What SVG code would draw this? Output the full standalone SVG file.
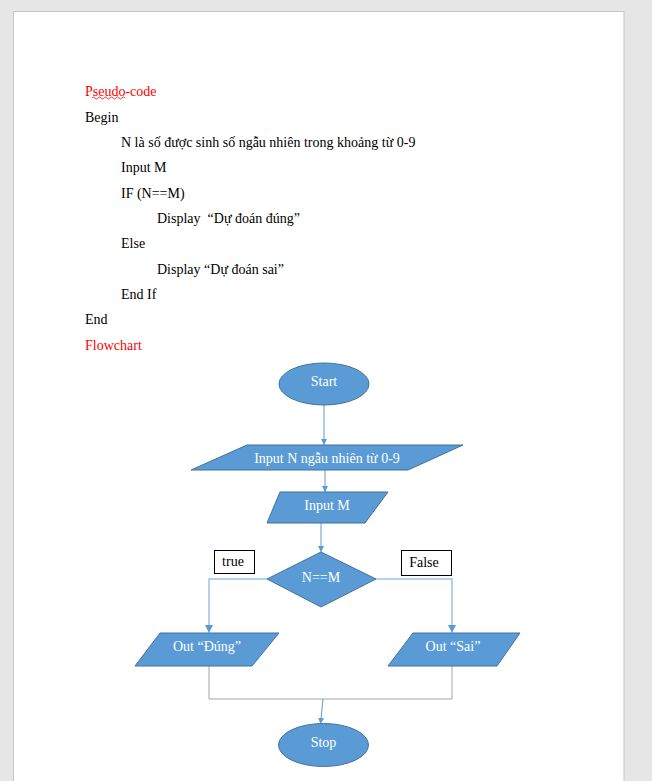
<svg xmlns="http://www.w3.org/2000/svg" width="652" height="781" viewBox="0 0 652 781">
<defs>
<style>
text{font-family:'Liberation Serif','Times New Roman',Times,serif;font-size:14px}
.pc{fill:#000;white-space:pre}
.red{fill:#ff0000}
.sh{fill:#5b9bd5;stroke:#41719c;stroke-width:1}
.lbl{fill:#fff;text-anchor:middle}
.box{fill:#fff;stroke:#000;stroke-width:1}
.btxt{fill:#000;text-anchor:middle}
.ar{fill:none;stroke:#5b9bd5;stroke-width:1}
.side{fill:none;stroke:#9dc3e6;stroke-width:1.5}
.gray{fill:none;stroke:#a5a5a5;stroke-width:1}
</style>
<marker id="ah" viewBox="0 0 10 10" refX="10" refY="5" markerWidth="6" markerHeight="6" orient="auto" markerUnits="userSpaceOnUse">
<path d="M0,0 L10,5 L0,10 z" fill="#5b9bd5"/>
</marker>
</defs>
<rect x="0" y="0" width="652" height="781" fill="#e6e6e6"/>
<rect x="13.5" y="11.5" width="610.5" height="775" fill="#fff" stroke="#c6c6c6" stroke-width="1"/>

<g id="pseudocode" font-family="Liberation Serif, serif">
<text class="pc red" x="85" y="96">Pseudo-code</text>
<path d="M92,98 q1.5,-2 3,0 t3,0 t3,0 t3,0 t3,0 t3,0 t3,0 t3,0 t3,0 t3,0 t3,0" fill="none" stroke="#ff0000" stroke-width="0.8"/>
<text class="pc" x="85" y="121.5">Begin</text>
<text class="pc" x="121" y="147">N là số được sinh số ngẫu nhiên trong khoảng từ 0-9</text>
<text class="pc" x="121" y="172">Input M</text>
<text class="pc" x="121" y="197.5">IF (N==M)</text>
<text class="pc" x="157" y="223">Display  “Dự đoán đúng”</text>
<text class="pc" x="121" y="248.3">Else</text>
<text class="pc" x="157" y="273.5">Display “Dự đoán sai”</text>
<text class="pc" x="121" y="299">End If</text>
<text class="pc" x="85" y="324.3">End</text>
<text class="pc red" x="85" y="349.5">Flowchart</text>
</g>

<g id="connectors">
<line class="ar" x1="324" y1="405" x2="324" y2="445" marker-end="url(#ah)"/>
<line class="ar" x1="325" y1="470" x2="325" y2="492" marker-end="url(#ah)"/>
<line class="ar" x1="321" y1="523" x2="321" y2="552" marker-end="url(#ah)"/>
<polyline class="side" points="267,579 209,579 209,627"/>
<path d="M205,625 L209,633 L213,625 z" fill="#5b9bd5"/>
<polyline class="side" points="376,579 452,579 452,627"/>
<path d="M448,625 L452,633 L456,625 z" fill="#5b9bd5"/>
<polyline class="gray" points="209,666 209,699 452,699 452,666"/>
<line class="ar" x1="323" y1="699" x2="320.5" y2="724" marker-end="url(#ah)"/>
</g>

<g id="start">
<ellipse class="sh" cx="324" cy="384" rx="45" ry="21"/>
<text class="lbl" x="324" y="386">Start</text>
</g>
<g id="inputN">
<polygon class="sh" points="247,445 463,445 408,470 191,470"/>
<text class="lbl" x="327" y="463">Input N ngẫu nhiên từ 0-9</text>
</g>
<g id="inputM">
<polygon class="sh" points="280,492 388,492 365,523 267,523"/>
<text class="lbl" x="327" y="510">Input M</text>
</g>
<g id="decision">
<polygon class="sh" points="321,552 376,579 321,607 267,579"/>
<text class="lbl" x="321" y="582">N==M</text>
</g>
<g id="trueLabel">
<rect class="box" x="214.5" y="550.5" width="40" height="23"/>
<text class="btxt" x="233" y="566">true</text>
</g>
<g id="falseLabel">
<rect class="box" x="401.5" y="550.5" width="50" height="25"/>
<text class="btxt" x="424" y="567">False</text>
</g>
<g id="outDung">
<polygon class="sh" points="160,633 279,633 252,666 135,666"/>
<text class="lbl" x="207" y="651">Out “Đúng”</text>
</g>
<g id="outSai">
<polygon class="sh" points="413,633 520,633 497,666 388,666"/>
<text class="lbl" x="453" y="651">Out “Sai”</text>
</g>
<g id="stop">
<ellipse class="sh" cx="323.5" cy="745" rx="45" ry="21.5"/>
<text class="lbl" x="323.5" y="747">Stop</text>
</g>
</svg>
